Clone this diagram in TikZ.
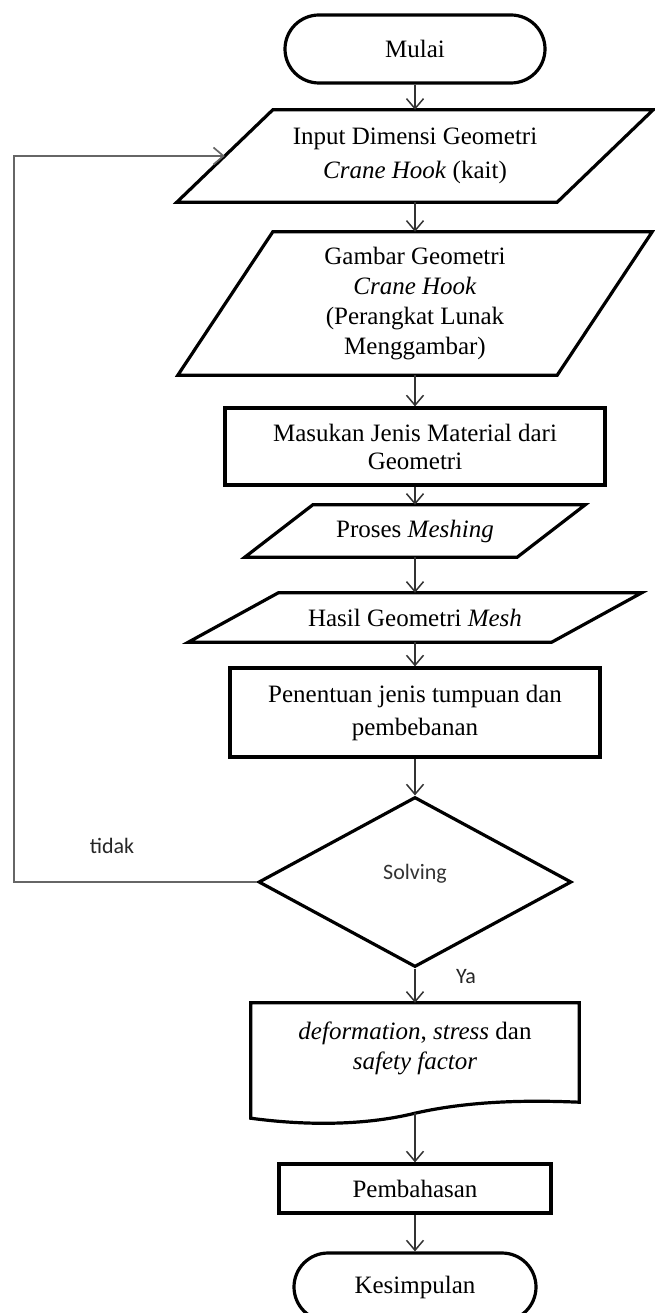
\documentclass[tikz,border=0pt]{standalone}
\usepackage{fontspec}
\setmainfont{Liberation Serif}
\newfontfamily\labelfont{Carlito}
\usetikzlibrary{
    arrows.meta,
    shapes.geometric,
    calc
}
\tikzset{
    % Colors
    line color/.style={black!80},
    loop color/.style={black!60},
    object style/.style={draw=black,line width=3.2pt},
    %
    % Boxes
    terminal/.style={object style,rectangle,rounded corners=34pt,minimum height=68pt},
    process/.style={object style,rectangle,align=center},
    io box/.style={rectangle,align=center,inner sep=0pt},
    doc box/.style={rectangle,align=center,inner sep=0pt},
    decision/.style={object style,diamond,inner sep=0pt,minimum width=313pt,minimum height=170pt,
        font=\labelfont\fontsize{22}{26}\selectfont,text=black!80},
    branch label/.style={font=\labelfont\fontsize{22}{26}\selectfont,text=black!85},
    %
    % Arrows
    arrow tip/.tip={Straight Barb[length=10pt,width=17pt]},
    arr/.style={->,>={arrow tip},line width=1.5pt,line color},
    back arr/.style={arr,line width=1.7pt,loop color}
}
\tikzstyle{every node}=[font=\fontsize{25}{30}\selectfont]

\begin{document}
\begin{tikzpicture}[x=1pt,y=-1pt]
        \useasboundingbox (0,0) rectangle (654,1313);

        \node[terminal,minimum width=260pt] (start) at (415,49) {Mulai};
        \node[io box,minimum width=380pt,minimum height=92pt] (in) at (415,156) {Input Dimensi Geometri\\[4pt]\textit{Crane Hook} (kait)};
        \node[io box,minimum width=379pt,minimum height=143pt] (geo) at (415,303.5) {Gambar Geometri\\\textit{Crane Hook}\\(Perangkat Lunak\\Menggambar)};
        \node[process,minimum width=380pt,minimum height=77pt] (mat) at (415,446.5) {Masukan Jenis Material dari\\[-2pt]Geometri};
        \node[io box,minimum width=272pt,minimum height=52pt] (mesh) at (415,531) {Proses \textit{Meshing}};
        \node[io box,minimum width=363pt,minimum height=49pt] (hasil) at (415,617.5) {Hasil Geometri \textit{Mesh}};
        \node[process,minimum width=370pt,minimum height=89pt] (tump) at (415,712.5) {Penentuan jenis tumpuan dan\\[3pt]pembebanan};
        \node[decision,text depth=20pt] (solve) at (415,882) {Solving};
        \node[doc box,minimum width=328pt,minimum height=90pt] (out) at (415,1048) {\textit{deformation}, \textit{stress} dan\\\textit{safety factor}};
        \node[process,minimum width=272pt,minimum height=49pt] (bahas) at (415,1188.5) {Pembahasan};
        \node[terminal,minimum width=242pt] (stop) at (415,1287) {Kesimpulan};

        \foreach \n/\s in {in/48,geo/47.5,mesh/34,hasil/45}
        \draw[object style] ([xshift=-\s]\n.south west) -- ([xshift=\s]\n.north west)
        -- ([xshift=\s]\n.north east) -- ([xshift=-\s]\n.south east) -- cycle;

        \draw[object style] (out.north west) -- (out.north east) -- ($(out.south east)+(0,9)$)
        .. controls ($(out.south east)+(-47,7)$) and ($(out.south)+(57,7)$) .. ($(out.south)+(0,20)$)
        .. controls ($(out.south)+(-53,33)$) and ($(out.south west)+(51,32)$) .. ($(out.south west)+(0,25)$) -- cycle;
        \coordinate (out wave) at ($(out.south)+(0,20)$);

        \draw[arr] (start) -- (in);
        \draw[arr] (in) -- (geo);
        \draw[arr] (geo) -- (mat);
        \draw[arr] (mat) -- (mesh);
        \draw[arr] (mesh) -- (hasil);
        \draw[arr] (hasil) -- (tump);
        \draw[arr] (tump) -- (solve);
        \draw[arr] (solve) -- (out);
        \draw[arr] (out wave) -- (bahas);
        \draw[arr] (bahas) -- (stop);

        \coordinate (back) at (14,882);
        \draw[back arr] (solve.west) -- (back) |- (in.west);
        \node[branch label] (no) at (112,846) {tidak};
        \node[branch label] (yes) at (466,977) {Ya};
    \end{tikzpicture}
\end{document}
